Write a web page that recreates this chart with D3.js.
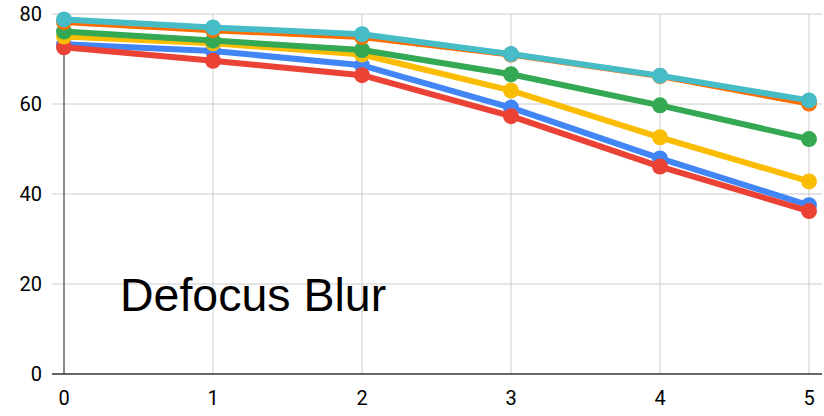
<!DOCTYPE html>
<html>
<head>
<meta charset="utf-8">
<script src="https://cdn.jsdelivr.net/npm/d3@7"></script>
<style>
  html, body { margin: 0; padding: 0; background: #fff; }
  svg { display: block; }
  text { font-family: "Liberation Sans", Arial, sans-serif; }
  .tick { font-family: Roboto, "Liberation Sans", Arial, sans-serif; }
</style>
</head>
<body>
<svg id="chart" width="824" height="416"></svg>
<script>
// ---- data ----
const xValues = [0, 1, 2, 3, 4, 5];
const yTicks = [0, 20, 40, 60, 80];
const chartTitle = "Defocus Blur";
const seriesNames = ["Blue", "Red", "Yellow", "Green", "Orange", "Teal"];
const seriesColors = ["#4285f4", "#ea4335", "#fbbc04", "#34a853", "#ff6d01", "#46bdc6"];
const blueValues   = [73.3, 71.8, 68.6, 59.2, 47.9, 37.5];
const redValues    = [72.6, 69.6, 66.4, 57.3, 46.1, 36.2];
const yellowValues = [75.0, 73.5, 71.0, 63.0, 52.6, 42.8];
const greenValues  = [76.1, 74.1, 72.0, 66.6, 59.7, 52.2];
const orangeValues = [78.2, 76.4, 74.9, 71.0, 66.2, 60.1];
const tealValues   = [78.8, 77.0, 75.5, 71.1, 66.3, 60.8];
const seriesValues = [blueValues, redValues, yellowValues, greenValues, orangeValues, tealValues];

// ---- layout ----
const svg = d3.select("#chart");
const mLeft = 64, mRight = 809, mTop = 14, mBottom = 374;

const x = d3.scaleLinear().domain([0, 5]).range([mLeft, mRight]);
const y = d3.scaleLinear().domain([0, 80]).range([mBottom, mTop]);

// horizontal gridlines
svg.append("g").selectAll("line").data(yTicks.filter(d => d !== 0)).join("line")
  .attr("x1", 52).attr("x2", 822)
  .attr("y1", d => y(d)).attr("y2", d => y(d))
  .attr("stroke", "#cccccc").attr("stroke-width", 1);

// vertical gridlines
svg.append("g").selectAll("line").data(xValues.filter(d => d !== 0)).join("line")
  .attr("x1", d => x(d)).attr("x2", d => x(d))
  .attr("y1", mTop).attr("y2", mBottom)
  .attr("stroke", "#cccccc").attr("stroke-width", 1);

// y axis line (vertical at x=0)
svg.append("line")
  .attr("x1", x(0)).attr("x2", x(0))
  .attr("y1", mTop).attr("y2", mBottom)
  .attr("stroke", "#666666").attr("stroke-width", 1.5);

// x axis line
svg.append("line")
  .attr("x1", 52).attr("x2", 822)
  .attr("y1", y(0)).attr("y2", y(0))
  .attr("stroke", "#333333").attr("stroke-width", 1.5);

// y tick labels
svg.append("g").selectAll("text").data(yTicks).join("text")
  .attr("class", "tick")
  .attr("x", 42).attr("y", d => y(d))
  .attr("dy", "0.36em")
  .attr("text-anchor", "end")
  .attr("font-size", 20)
  .attr("fill", "#000")
  .text(d => d);

// x tick labels
svg.append("g").selectAll("text").data(xValues).join("text")
  .attr("class", "tick")
  .attr("x", d => x(d)).attr("y", 398)
  .attr("dy", "0.36em")
  .attr("text-anchor", "middle")
  .attr("font-size", 20)
  .attr("fill", "#000")
  .text(d => d);

// title inside chart
svg.append("text")
  .attr("x", 120).attr("y", 311)
  .attr("font-size", 46.5)
  .attr("fill", "#000")
  .text(chartTitle);

// series
const line = d3.line().x((d, i) => x(xValues[i])).y(d => y(d));
seriesValues.forEach((vals, si) => {
  const g = svg.append("g");
  g.append("path")
    .attr("d", line(vals))
    .attr("fill", "none")
    .attr("stroke", seriesColors[si])
    .attr("stroke-width", 6)
    .attr("stroke-linejoin", "round");
  g.selectAll("circle").data(vals).join("circle")
    .attr("cx", (d, i) => x(xValues[i]))
    .attr("cy", d => y(d))
    .attr("r", 8)
    .attr("fill", seriesColors[si]);
});
</script>
</body>
</html>
